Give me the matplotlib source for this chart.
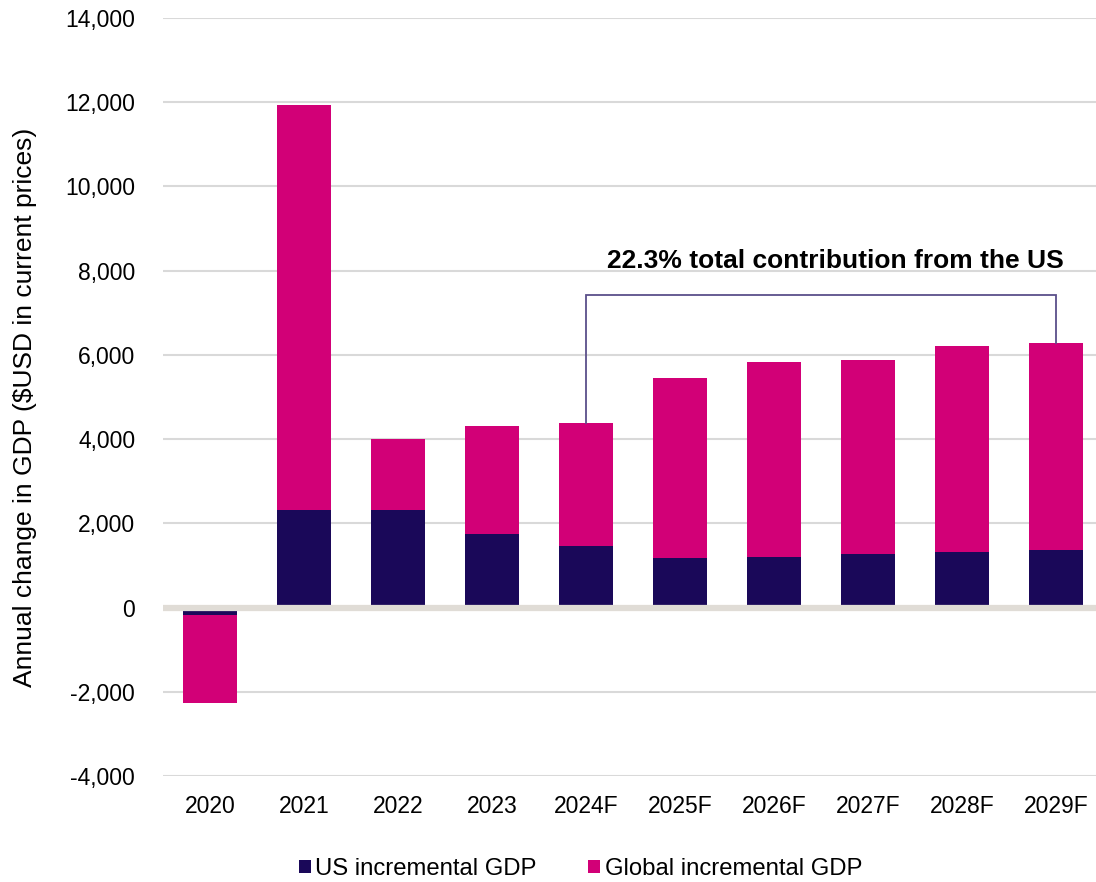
import numpy as np
import matplotlib
matplotlib.use("Agg")
import matplotlib.pyplot as plt
from matplotlib.ticker import FuncFormatter

plt.rcParams['font.family'] = ['Liberation Sans', 'DejaVu Sans']

# annual change in GDP, $USD bn (current prices)
years = ['2020', '2021', '2022', '2023', '2024F', '2025F', '2026F', '2027F', '2028F', '2029F']
us_gdp = [-170, 2310, 2310, 1740, 1450, 1170, 1210, 1260, 1310, 1360]
total_gdp = [-2260, 11930, 4010, 4300, 4390, 5440, 5820, 5870, 6200, 6290]
global_gdp = [t - u for t, u in zip(total_gdp, us_gdp)]

note = '22.3% total contribution from the US'
bracket_top = 7430
bracket_from, bracket_to = 4, 9

navy = '#1a0859'
magenta = '#d20077'

fig = plt.figure(figsize=(10.96, 8.82), dpi=100)
ax = fig.add_axes([0.1487, 0.1202, 0.8577, 0.8594])

x = np.arange(len(years))
ax.bar(x, us_gdp, width=0.575, color=navy, label='US incremental GDP', zorder=3)
ax.bar(x, global_gdp, width=0.575, bottom=us_gdp, color=magenta,
       label='Global incremental GDP', zorder=3)

ax.set_xlim(-0.5, len(years) - 0.5)
ax.set_ylim(-4000, 14000)
ax.set_yticks(np.arange(-4000, 14001, 2000))
ax.yaxis.set_major_formatter(FuncFormatter(lambda v, p: f'{int(v):,}'))
ax.set_xticks(x)
ax.set_xticklabels(years)

ax.grid(axis='y', color='#d9d9d9', linewidth=1.5, zorder=0)
ax.axhline(0, color='#e0dcd6', linewidth=4.5, zorder=4)
for s in ax.spines.values():
    s.set_visible(False)
ax.tick_params(axis='both', length=0, labelsize=16.5, colors='black')
ax.tick_params(axis='y', pad=20)
ax.tick_params(axis='x', pad=14)

fig.text(0.0228, 0.5385, 'Annual change in GDP ($USD in current prices)',
         rotation=90, ha='center', va='center', fontsize=19)

# bracket over the forecast years
bc = '#5b4f8a'
ax.plot([bracket_from, bracket_from, bracket_to, bracket_to],
        [total_gdp[bracket_from], bracket_top, bracket_top, total_gdp[bracket_to]],
        color=bc, linewidth=1.3, zorder=5, solid_joinstyle='miter')
ax.text(6.65, 8240, note, ha='center', va='center', fontsize=19,
        fontweight='bold', zorder=6)

leg = fig.legend(loc='center', bbox_to_anchor=(0.5297, 0.0147), ncol=2, frameon=False,
                 fontsize=17.2, handlelength=0.5, handleheight=0.5,
                 handletextpad=0.2, columnspacing=2.15,
                 borderpad=0, borderaxespad=0)

fig.savefig('out.png', dpi=100)
